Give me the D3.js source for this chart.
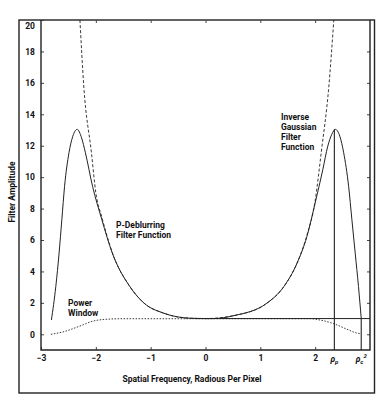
<!DOCTYPE html>
<html>
<head>
<meta charset="utf-8">
<script src="https://cdn.jsdelivr.net/npm/d3@7"></script>
<style>
  body { margin: 0; background: #fff; }
  svg text { font-family: Roboto, sans-serif; font-weight: bold; fill: #111; }
</style>
</head>
<body>
<div id="chart"></div>
<script>
// P-deblurring filter function (solid)
const deblurX = [-2.81, -2.73, -2.67, -2.62, -2.57, -2.49, -2.42, -2.34, -2.26, -2.19, -2.06, -1.89, -1.70, -1.38, -1.12, -0.76, -0.27, 0, 0.15, 0.52, 1.12, 1.43, 1.67, 1.85, 2.00, 2.14, 2.23, 2.30, 2.37, 2.45, 2.52, 2.61, 2.67, 2.73, 2.79, 2.84];
const deblurY = [0.91, 3.04, 5.17, 7.29, 9.42, 11.55, 12.6, 13.04, 12.5, 11.55, 9.42, 7.29, 5.17, 3.04, 1.98, 1.34, 1.02, 1.0, 1.0, 1.19, 1.98, 3.04, 4.53, 6.23, 8.36, 10.49, 11.97, 12.7, 13.04, 12.6, 11.55, 9.42, 7.29, 5.17, 3.04, 1.02];

// inverse Gaussian filter function (dashed)
const gaussX = [-2.29, -2.22, -2.08, -2.0, -1.89, -1.70, -1.38, -1.12, -0.76, -0.27, 0, 0.52, 1.12, 1.43, 1.67, 1.85, 2.0, 2.11, 2.25, 2.34];
const gaussY = [20, 15.8, 11.55, 9.0, 7.45, 5.2, 3.04, 1.98, 1.34, 1.02, 1.0, 1.19, 1.98, 3.04, 4.53, 6.3, 8.5, 11.55, 15.8, 20];

// power window (dotted)
const windowX = [-2.82, -2.6, -2.4, -2.2, -2.09, -1.79, -1.5, 0, 1.91, 2.1, 2.34, 2.58, 2.72, 2.84];
const windowY = [0, 0.15, 0.38, 0.65, 0.8, 0.96, 0.99, 0.99, 0.99, 0.9, 0.67, 0.32, 0.12, 0.02];

// unity line and the two cut-off markers
const unityX = [-0.2, 3];
const unityY = [1, 1];
const rhoP = 2.35, rhoPTop = 13.04;
const rhoC = 2.84, rhoCTop = 1.0;

const xTicks = [-3, -2, -1, 0, 1, 2];
const xInnerTicks = [-2, -1, 0, 1, 2];
const yTicks = [0, 2, 4, 6, 8, 10, 12, 14, 16, 18, 20];

const W = 388, H = 410;
const pLeft = 41, pRight = 370, pTop = 20, pBottom = 350;

const svg = d3.select("#chart").append("svg")
  .attr("width", W).attr("height", H);

const x = d3.scaleLinear().domain([-3, 3]).range([pLeft, pRight]);
const y = d3.scaleLinear().domain([-1, 20]).range([pBottom, pTop]);

// outer frame
svg.append("rect")
  .attr("x", 19).attr("y", 20).attr("width", 355.5).attr("height", 373)
  .attr("fill", "none").attr("stroke", "#222").attr("stroke-width", 1.4);

// axes
const yAxis = svg.append("g")
  .attr("transform", `translate(${pLeft},0)`)
  .call(d3.axisLeft(y).tickValues(yTicks).tickSize(-3).tickPadding(6));
yAxis.selectAll(".tick").filter(d => d === 20).select("text").attr("dy", "0.95em");

svg.append("g")
  .attr("transform", `translate(${pRight},0)`)
  .call(d3.axisRight(y).tickValues(yTicks.filter(d => d < 20)).tickSize(-3).tickFormat(""));

svg.append("g")
  .attr("transform", `translate(0,${pTop})`)
  .call(d3.axisTop(x).tickValues(xInnerTicks).tickSize(-3).tickFormat(""));

svg.append("g")
  .attr("transform", `translate(0,${pBottom})`)
  .call(d3.axisBottom(x).tickValues(xTicks).tickSize(-3).tickPadding(5).tickFormat(d3.format("d")));

svg.selectAll(".domain").remove();
svg.selectAll(".tick line").attr("stroke", "#444");
svg.selectAll(".tick text").style("font-size", "8.5px");

// plot box (left, bottom, right)
svg.append("path")
  .attr("d", `M${pLeft},${pTop}V${pBottom}H${pRight}V${pTop}`)
  .attr("fill", "none").attr("stroke", "#222").attr("stroke-width", 1.4);

// rho labels
const rhoLabels = svg.append("g").style("font-size", "8.5px").style("font-style", "italic").style("font-weight", "normal");
const lp = rhoLabels.append("text").attr("x", x(rhoP)).attr("y", pBottom + 12).attr("text-anchor", "middle");
lp.append("tspan").text("ρ");
lp.append("tspan").attr("dy", 2).style("font-size", "6px").text("p");
const lc = rhoLabels.append("text").attr("x", x(rhoC)).attr("y", pBottom + 12).attr("text-anchor", "middle");
lc.append("tspan").text("ρ");
lc.append("tspan").attr("dy", 2).style("font-size", "6px").text("c");
lc.append("tspan").attr("dy", -6).style("font-size", "6px").text("2");

const line = d3.line().x(d => x(d[0])).y(d => y(d[1])).curve(d3.curveMonotoneX);
const straight = d3.line().x(d => x(d[0])).y(d => y(d[1]));

svg.append("path")
  .datum(d3.zip(windowX, windowY))
  .attr("d", line)
  .attr("fill", "none").attr("stroke", "#222").attr("stroke-width", 0.9).attr("stroke-dasharray", "1.5,1.5");

svg.append("path")
  .datum(d3.zip(gaussX, gaussY))
  .attr("d", line)
  .attr("fill", "none").attr("stroke", "#222").attr("stroke-width", 0.9).attr("stroke-dasharray", "3,2");

svg.append("path")
  .datum(d3.zip(unityX, unityY))
  .attr("d", straight)
  .attr("fill", "none").attr("stroke", "#222").attr("stroke-width", 1);

svg.append("path")
  .datum(d3.zip(deblurX, deblurY))
  .attr("d", line)
  .attr("fill", "none").attr("stroke", "#222").attr("stroke-width", 1);

// vertical markers
[[rhoP, rhoPTop], [rhoC, rhoCTop]].forEach(([v, t]) => {
  svg.append("line")
    .attr("x1", x(v)).attr("x2", x(v)).attr("y1", y(t)).attr("y2", pBottom)
    .attr("stroke", "#222").attr("stroke-width", 1.1);
});

// annotations
function label(lines, lx, ly) {
  const t = svg.append("text").attr("x", lx).attr("y", ly).style("font-size", "8.5px");
  lines.forEach((s, i) => t.append("tspan").attr("x", lx).attr("dy", i ? 10 : 0).text(s));
}
label(["P-Deblurring", "Filter Function"], 116, 228);
label(["Power", "Window"], 68, 306);
label(["Inverse", "Gaussian", "Filter", "Function"], 281, 120);

// axis titles
svg.append("text")
  .attr("x", 192).attr("y", 382).attr("text-anchor", "middle")
  .style("font-size", "8.5px")
  .text("Spatial Frequency, Radious Per Pixel");

svg.append("text")
  .attr("transform", "translate(15,192) rotate(-90)")
  .attr("text-anchor", "middle")
  .style("font-size", "8.5px")
  .text("Filter Amplitude");
</script>
</body>
</html>
